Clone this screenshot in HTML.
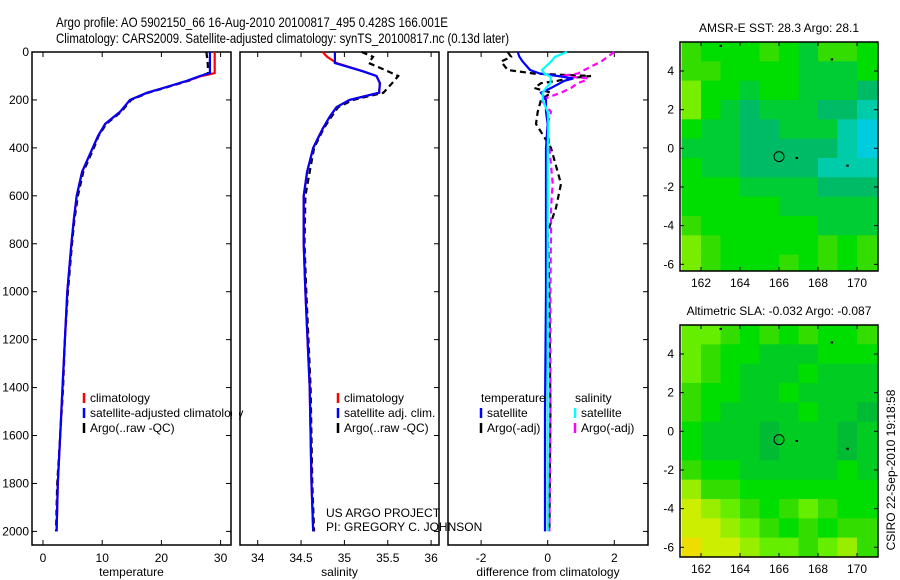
<!DOCTYPE html>
<html><head><meta charset="utf-8"><style>
html,body{margin:0;padding:0;background:#fff;}
svg{display:block;font-family:"Liberation Sans",sans-serif;}
</style></head><body>
<svg id="fig" width="900" height="580" viewBox="0 0 900 580" xmlns="http://www.w3.org/2000/svg">
<text x="56" y="27" font-size="14" textLength="392" lengthAdjust="spacingAndGlyphs">Argo profile: AO 5902150_66 16-Aug-2010 20100817_495 0.428S 166.001E</text>
<text x="56" y="43" font-size="14" textLength="453" lengthAdjust="spacingAndGlyphs">Climatology: CARS2009. Satellite-adjusted climatology: synTS_20100817.nc (0.13d later)</text>
<g id="layer"></g>
</svg>
<script>
// ---- profile data ----
const depthT = [0,40,88,100,120,150,170,200,250,300,350,400,500,600,700,800,1000,1200,1400,1600,1800,2000];
const tempClim = [29.0,29.0,29.0,26.8,24.4,20.3,17.6,14.7,13.0,10.5,9.3,8.4,6.6,5.7,5.2,4.8,4.1,3.7,3.3,2.9,2.5,2.3];
const tempSat = [28.2,28.2,28.2,26.5,24.3,20.3,17.6,14.7,13.0,10.5,9.3,8.4,6.6,5.7,5.2,4.8,4.1,3.7,3.3,2.9,2.5,2.3];
const tempArgo = [27.6,27.8,27.9,26.6,24.6,20.5,17.8,14.9,13.2,10.7,9.4,8.6,6.8,5.9,5.3,4.9,4.2,3.7,3.4,2.9,2.4,2.2];
const depthS = [0,20,46,80,100,130,170,200,230,270,320,400,500,600,800,1000,1400,1800,2000];
const salClim = [34.75,34.80,34.91,35.21,35.37,35.41,35.40,35.06,34.91,34.83,34.75,34.64,34.57,34.53,34.53,34.55,34.60,34.62,34.64];
const salSat = [34.89,34.89,34.89,35.21,35.37,35.41,35.40,35.06,34.91,34.83,34.75,34.64,34.57,34.53,34.53,34.55,34.60,34.62,34.64];
const salArgo = [35.20,35.33,35.28,35.50,35.62,35.55,35.45,35.10,34.93,34.85,34.76,34.65,34.60,34.55,34.54,34.56,34.61,34.63,34.65];
const depthD = [0,20,40,75,90,100,110,120,130,150,170,200,250,300,400,550,650,750,1000,1500,2000];
const tSatDiff = [-0.9,-0.85,-0.75,-0.53,-0.23,0.3,0.77,0.5,0.37,0.1,-0.2,-0.05,-0.05,0,-0.05,-0.05,-0.05,-0.05,-0.05,-0.08,-0.08];
const sSatDiff = [0.58,0.22,0.1,-0.17,-0.1,0.05,0.1,0.08,0.08,-0.05,-0.15,-0.15,0,0.02,0,0,0,0,0,0,0];
const tArgoDiff = [-1.2,-1.1,-1.4,-1.2,-0.4,1.3,0.6,0.3,-0.2,-0.4,0.1,-0.2,-0.3,-0.35,0.1,0.4,0.25,0,0.05,0.08,0.05];
const sArgoDiff = [2.0,1.8,1.6,1.1,0.9,0.4,1.2,1.1,0.9,0.7,0.4,-0.2,0.1,0,0.05,0.15,0.1,0.1,0.08,0.08,0.05];
const depthTicks = [0,200,400,600,800,1000,1200,1400,1600,1800,2000];
const tempTicks = [0,10,20,30];
const salTicks = [34,34.5,35,35.5,36];
const diffTicks = [-2,0,2];
// ---- map data (1-degree cells, lon 161..171, rows from 5.5 down) ----
const sstRows = ["bcccbcdbbc","bbccccdddc","accdccddde","acdedddeef","cddeedddfg","dddeeeeefg","cddeeeefff","cccddddeee","cccccddddd","bccccccddd","abcccccbcb","abcccbcbcb"];
const slaRows = ["vvbcbcbccb","vbccdddccc","vbcdddcddd","bccddcdddd","bcddddcdde","cdddeddded","cdddeddded","bccdddddcd","wbbccccccc","xwvbcbvbcc","xxwvbcbcbb","yxxwvvbvwb"];
const lonTicks = [162,164,166,168,170];
const latTicks = [4,2,0,-2,-4,-6];
const floatLon = 166.0, floatLat = -0.43;

const NS="http://www.w3.org/2000/svg";
const layer=document.getElementById('layer');
function mk(tag,attrs,parent){const e=document.createElementNS(NS,tag);for(const k in attrs)e.setAttribute(k,attrs[k]);(parent||layer).appendChild(e);return e;}
function yD(d){return 52+d*0.2397;}

function panel(x0,x1,name,ticks,xf,label,showY){
  const g=mk('g',{});
  
  
  mk('rect',{x:x0,y:52,width:x1-x0,height:493,fill:'none',stroke:'#000','stroke-width':1.5},g);
  ticks.forEach(t=>{const x=xf(t);
    mk('line',{x1:x,x2:x,y1:545,y2:540,stroke:'#000'},g);
    mk('line',{x1:x,x2:x,y1:52,y2:57,stroke:'#000'},g);
    const tx=mk('text',{x:x,y:562,'font-size':12,'text-anchor':'middle'},g);tx.textContent=t;
    
    
  });
  depthTicks.forEach(d=>{const y=yD(d);
    mk('line',{x1:x1,x2:x1-5,y1:y,y2:y,stroke:'#000'},g);
    if(showY){mk('line',{x1:x0,x2:x0+5,y1:y,y2:y,stroke:'#000'},g);
      const tx=mk('text',{x:x0-3,y:y+4,'font-size':12,'text-anchor':'end'},g);tx.textContent=d;
      
      }
  });
  const lb=mk('text',{x:(x0+x1)/2,y:576,'font-size':12,'text-anchor':'middle'},g);lb.textContent=label;
  
  
  return g;
}
function line(g,xs,ds,xf,color,dash,name,w){
  const pts=xs.map((v,i)=>xf(v).toFixed(1)+','+yD(ds[i]).toFixed(1)).join(' ');
  const p=mk('polyline',{points:pts,fill:'none',stroke:color,'stroke-width':w||2.2,'stroke-dasharray':dash||'none'},g);
  
  
}
function legend(g,items,x,y){
  items.forEach((it,i)=>{const yy=y+i*15;
    if(it.c){mk('line',{x1:x,x2:x,y1:yy-9,y2:yy+1,stroke:it.c,'stroke-width':2.5},g);}
    const t=mk('text',{x:x+(it.c?6:0),y:yy,'font-size':12},g);t.textContent=it.t;
    
    
  });
}
// panel 1
const xT=v=>43+v*5.92;
const p1=panel(32,231,'temperature-panel',tempTicks,xT,'temperature',true);
line(p1,tempArgo,depthT,xT,'#000','6,4','argo-temperature-line');
line(p1,tempClim,depthT,xT,'#f00',null,'climatology-temperature-line');
line(p1,tempSat,depthT,xT,'#00f',null,'satellite-temperature-line');
legend(p1,[{c:'#f00',t:'climatology'},{c:'#00f',t:'satellite-adjusted climatology'},{c:'#000',t:'Argo(..raw -QC)'}],84,402);
mk('rect',{x:232,y:390,width:7,height:50,fill:'#fff'});
// panel 2
const xS=v=>257.7+(v-34)*86.7;
const p2=panel(240,439,'salinity-panel',salTicks,xS,'salinity',false);
line(p2,salArgo,depthS,xS,'#000','6,4','argo-salinity-line');
line(p2,salClim,depthS,xS,'#f00',null,'climatology-salinity-line');
line(p2,salSat,depthS,xS,'#00f',null,'satellite-salinity-line');
legend(p2,[{c:'#f00',t:'climatology'},{c:'#00f',t:'satellite adj. clim.'},{c:'#000',t:'Argo(..raw -QC)'}],338,402);
const us=mk('text',{x:326,y:517,'font-size':12},p2);us.textContent='US ARGO PROJECT';


const pi=mk('text',{x:326,y:531,'font-size':12},p2);pi.textContent='PI: GREGORY C. JOHNSON';


// panel 3
const xDf=v=>547.7+v*33.3;
const p3=panel(448,648,'difference-panel',diffTicks,xDf,'difference from climatology',false);
line(p3,tArgoDiff,depthD,xDf,'#000','6,4','argo-temperature-diff-line');
line(p3,sArgoDiff,depthD,xDf,'#f0f','6,4','argo-salinity-diff-line');
line(p3,tSatDiff,depthD,xDf,'#00f',null,'satellite-temperature-diff-line');
line(p3,sSatDiff,depthD,xDf,'#0ff',null,'satellite-salinity-diff-line');
legend(p3,[{t:'temperature'},{c:'#00f',t:'satellite'},{c:'#000',t:'Argo(-adj)'}],481,402);
legend(p3,[{t:'salinity'},{c:'#0ff',t:'satellite'},{c:'#f0f',t:'Argo(-adj)'}],575,402);
mk('text',{x:520,y:402,'font-size':12}).textContent='';

// maps
const sstPal={a:'#77ee00',b:'#33dd00',c:'#00dd00',d:'#00cc33',e:'#00bb66',f:'#00ccaa',g:'#00ccdd'};
const slaPal={y:'#eedd00',x:'#ccee00',w:'#99ee00',v:'#66ee00',b:'#33dd00',c:'#00dd00',d:'#00cc22',e:'#00bb33'};
function map(y0,y1,rows,pal,name,title){
  const x0=680,x1=878;
  const lonX=l=>701+(l-162)*19.5;
  const lat0y=y0+ (5.5)*19.33; // y of lat 0
  const latY=la=>lat0y-la*19.33;
  const g=mk('g',{});
  
  
  rows.forEach((r,ri)=>{[...r].forEach((ch,ci)=>{
    const lon=161+ci, lat=5.5-ri;
    const xa=Math.max(x0,lonX(lon)), xb=Math.min(x1,lonX(lon+1));
    const ya=latY(lat), yb=Math.min(y1,latY(lat-1));
    const c=mk('rect',{x:xa,y:ya,width:xb-xa+0.5,height:yb-ya+0.5,fill:pal[ch]},g);
    
    
  });});
  mk('rect',{x:x0,y:y0,width:x1-x0,height:y1-y0,fill:'none',stroke:'#000','stroke-width':1.5},g);
  lonTicks.forEach(l=>{const x=lonX(l);
    mk('line',{x1:x,x2:x,y1:y1,y2:y1-4,stroke:'#000'},g);mk('line',{x1:x,x2:x,y1:y0,y2:y0+4,stroke:'#000'},g);
    const t=mk('text',{x:x,y:y1+16,'font-size':12,'text-anchor':'middle'},g);t.textContent=l;
    
    });
  latTicks.forEach(la=>{const y=latY(la);
    mk('line',{x1:x0,x2:x0+4,y1:y,y2:y,stroke:'#000'},g);mk('line',{x1:x1,x2:x1-4,y1:y,y2:y,stroke:'#000'},g);
    const t=mk('text',{x:x0-6,y:y+4,'font-size':12,'text-anchor':'end'},g);t.textContent=la;
    
    });
  const c=mk('circle',{cx:lonX(floatLon),cy:latY(floatLat),r:5,fill:'none',stroke:'#000'},g);
  
  
  [[166.9,-0.5],[169.5,-0.9],[163,5.3],[168.7,4.6]].forEach(p=>mk('rect',{x:lonX(p[0])-1,y:latY(p[1])-1,width:2.5,height:2,fill:'#000'},g));
  const t=mk('text',{x:(x0+x1)/2,y:y0-10,'font-size':12,'text-anchor':'middle'},g);t.textContent=title;
  
  
}
map(42,271,sstRows,sstPal,'sst-map','AMSR-E SST: 28.3 Argo: 28.1');
map(325,557,slaRows,slaPal,'sla-map','Altimetric SLA: -0.032 Argo: -0.087');
const st=mk('text',{x:0,y:0,'font-size':12,'text-anchor':'middle',transform:'translate(895,470) rotate(-90)'});
st.textContent='CSIRO 22-Sep-2010 19:18:58';


</script>
</body></html>
